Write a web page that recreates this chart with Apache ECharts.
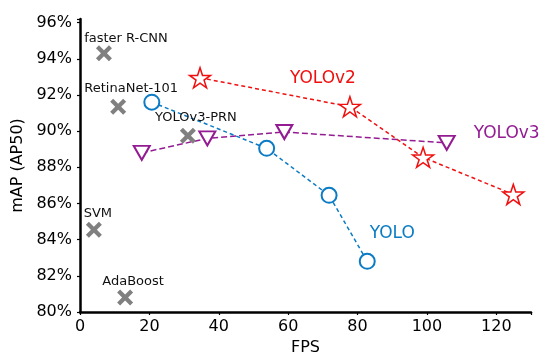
<!DOCTYPE html>
<html><head><meta charset="utf-8">
<script src="https://cdn.jsdelivr.net/npm/echarts@6/dist/echarts.min.js"></script>
<style>html,body{margin:0;padding:0;background:#fff}#c{width:550px;height:364px}</style>
</head><body><div id="c"></div>
<script>
// ---- data ----
const yoloFPS = [20.7, 53.8, 71.8, 82.8];
const yoloMAP = [91.6, 89.05, 86.45, 82.8];
const yolov2FPS = [34.6, 77.8, 98.9, 124.9];
const yolov2MAP = [92.95, 91.35, 88.55, 86.5];
const yolov3FPS = [17.8, 36.7, 58.9, 105.7];
const yolov3MAP = [88.8, 89.6, 89.95, 89.35];
const otherNames = ['faster R-CNN', 'RetinaNet-101', 'YOLOv3-PRN', 'SVM', 'AdaBoost'];
const otherFPS = [6.9, 11, 31.1, 4.0, 13];
const otherMAP = [94.3, 91.35, 89.75, 84.55, 80.8];
const xTicks = [0, 20, 40, 60, 80, 100, 120];
const yTicks = [80, 82, 84, 86, 88, 90, 92, 94, 96];

const FONT = 'DejaVu Sans';
const STAR = 'path://M100,0 L122.45,69.1 L195.1,69.1 L136.3,111.8 L158.8,180.9 L100,138.2 L41.2,180.9 L63.7,111.8 L4.9,69.1 L77.55,69.1 Z';
const XMARK = 'path://M0,3 L3,0 L8,5 L13,0 L16,3 L11,8 L16,13 L13,16 L8,11 L3,16 L0,13 L5,8 Z';

function pts(xs, ys) { return xs.map((x, i) => [x, ys[i]]); }
function withLabel(arr, idx, text, color, offset) {
  return arr.map((p, i) => i === idx ? {
    value: p,
    label: { show: true, formatter: text, color: color, fontFamily: FONT, fontSize: 17, position: 'inside', offset: offset }
  } : { value: p });
}
const otherOffsets = [[22, -15], [13, -18], [8, -18], [4, -16], [8, -16]];

const chart = echarts.init(document.getElementById('c'), null, { renderer: 'canvas' });
chart.setOption({
  animation: false,
  backgroundColor: '#fff',
  grid: { left: 80, right: 19, top: 19, bottom: 52 },
  xAxis: {
    type: 'value', min: 0, max: 130, interval: 20,
    name: 'FPS', nameLocation: 'middle', nameGap: 26,
    nameTextStyle: { fontFamily: FONT, fontSize: 16, color: '#000' },
    axisLine: { lineStyle: { color: '#000', width: 2.5 } },
    axisTick: { show: true, length: 3, lineStyle: { color: '#000', width: 1.2 },
      interval: (i, v) => xTicks.includes(Number(v)) },
    splitLine: { show: false },
    axisLabel: { fontFamily: FONT, fontSize: 16, color: '#000', margin: 7,
      formatter: v => xTicks.includes(v) ? String(v) : '' }
  },
  yAxis: {
    type: 'value', min: 80, max: 96.2, interval: 2,
    name: 'mAP (AP50)', nameLocation: 'middle', nameGap: 49,
    nameTextStyle: { fontFamily: FONT, fontSize: 16, color: '#000' },
    axisLine: { show: true, lineStyle: { color: '#000', width: 2.5 } },
    axisTick: { show: true, length: 3, lineStyle: { color: '#000', width: 1.2 } },
    splitLine: { show: false },
    axisLabel: { fontFamily: FONT, fontSize: 16, color: '#000', margin: 8,
      formatter: v => yTicks.includes(v) ? v + '%' : '' }
  },
  series: [
    {
      type: 'line', name: 'YOLO', data: withLabel(pts(yoloFPS, yoloMAP), 3, 'YOLO', '#0a7bc4', [25, -28]),
      symbol: 'circle', symbolSize: 15,
      itemStyle: { color: '#fff', borderColor: '#0a7bc4', borderWidth: 2 },
      lineStyle: { color: '#0a7bc4', width: 1.5, type: [4, 3] }, z: 3
    },
    {
      type: 'line', name: 'YOLOv2', data: withLabel(pts(yolov2FPS, yolov2MAP), 1, 'YOLOv2', '#f01010', [-27, -28]),
      symbol: STAR, symbolSize: [21, 20],
      itemStyle: { color: '#fff', borderColor: '#f01010', borderWidth: 1.5 },
      lineStyle: { color: '#f01010', width: 1.5, type: [4, 3] }, z: 4
    },
    {
      type: 'line', name: 'YOLOv3', data: withLabel(pts(yolov3FPS, yolov3MAP), 3, 'YOLOv3', '#931c93', [60, -9]),
      symbol: 'triangle', symbolSize: [16, 14], symbolRotate: 180,
      itemStyle: { color: '#fff', borderColor: '#931c93', borderWidth: 2 },
      lineStyle: { color: '#931c93', width: 1.5, type: [6, 3] }, z: 2
    },
    {
      type: 'scatter', name: 'others',
      data: otherFPS.map((x, i) => ({
        value: [x, otherMAP[i]],
        label: { show: true, formatter: otherNames[i], color: '#111', fontFamily: FONT, fontSize: 13, position: 'inside', offset: otherOffsets[i] }
      })),
      symbol: XMARK, symbolSize: 16,
      itemStyle: { color: '#808080', opacity: 1 }, z: 5
    }
  ]
});
</script></body></html>
